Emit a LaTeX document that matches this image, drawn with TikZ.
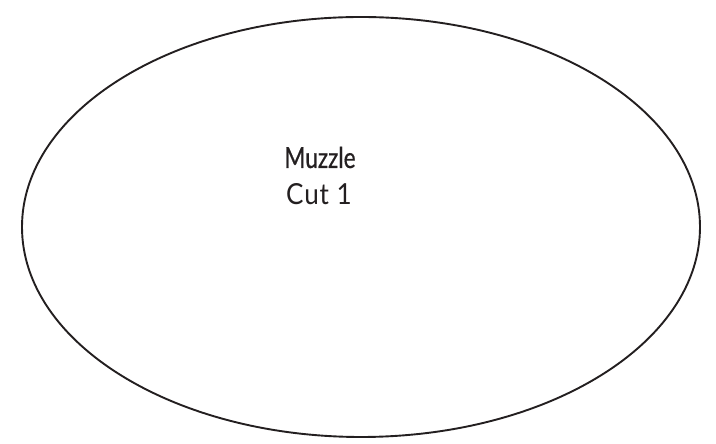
\documentclass[tikz,border=0pt]{standalone}
\usepackage{fontspec}
\setmainfont{Lato}[FakeStretch=0.9, LetterSpace=3]
\newfontfamily\headfont{Lato}[FakeStretch=0.78, FakeBold=0.6]
\usetikzlibrary{shapes.geometric}
\definecolor{ink}{HTML}{231F20}
\tikzset{
  outline/.style={draw=ink, line width=1.9pt, ellipse, minimum width=678pt, minimum height=420pt, inner sep=0pt},
  label/.style={text=ink, anchor=base, inner sep=0pt, font=\fontsize{29}{31}\selectfont}
}
\begin{document}
\begin{tikzpicture}[x=1pt,y=1pt]
\useasboundingbox (0,0) rectangle (716,444);
\node[outline] (shape) at (361,217) {};
\node[label, font=\fontsize{29}{31}\selectfont\headfont] (title) at (320,276) {Muzzle};
\node[label] (cut) at (319,239) {Cut 1};
\end{tikzpicture}
\end{document}
